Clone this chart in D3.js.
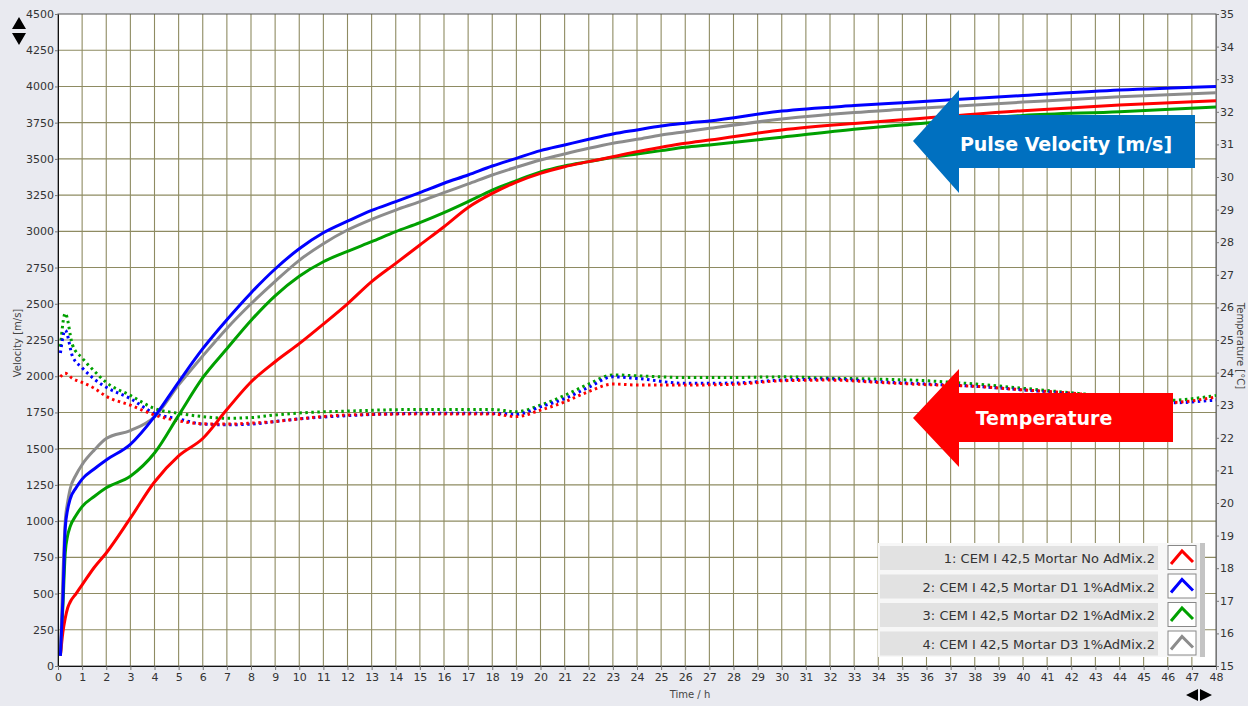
<!DOCTYPE html>
<html>
<head>
<meta charset="utf-8">
<script src="https://cdn.jsdelivr.net/npm/d3@7"></script>
<style>
html, body { margin: 0; padding: 0; background: #e9eaf0; }
svg { display: block; font-family: "DejaVu Sans", sans-serif; }
</style>
</head>
<body>
<svg width="1248" height="706"></svg>
<script>
// --- data ---
var hours = [0.1,0.2,0.3,0.4,0.5,0.75,1,1.5,2,3,4,5,6,7,8,9,10,11,12,13,14,15,16,17,18,19,20,21,22,23,24,25,26,27,30,33,35,40,44,48];
var velRed   = [70,230,330,400,440,500,560,680,780,1020,1270,1450,1570,1770,1960,2100,2225,2360,2500,2653,2779,2906,3032,3165,3262,3340,3400,3446,3481,3515,3550,3580,3608,3630,3700,3745,3770,3833,3872,3902];
var velBlue  = [70,450,950,1080,1150,1230,1290,1360,1422,1530,1721,1960,2190,2390,2575,2740,2880,2990,3070,3145,3205,3267,3332,3389,3451,3504,3557,3596,3635,3672,3700,3727,3746,3762,3830,3868,3888,3937,3975,4000];
var velGreen = [70,400,780,900,960,1040,1100,1170,1230,1310,1470,1730,1990,2190,2385,2555,2690,2790,2862,2929,2998,3060,3129,3205,3285,3350,3410,3451,3481,3511,3534,3557,3580,3596,3650,3705,3734,3800,3826,3858];
var velGray  = [70,600,1000,1130,1220,1320,1390,1490,1570,1625,1720,1940,2140,2330,2500,2655,2800,2915,3009,3083,3147,3205,3267,3327,3389,3442,3492,3534,3573,3608,3635,3665,3688,3711,3775,3820,3842,3892,3929,3957];

var tempHours = [0.1,0.3,0.6,1,1.5,2,3,4,5,6,7,8,9,10,12,15,18,19,20,21,22,23,24,26,28,30,32,34,36,38,40,42,44,46,48];
var tempRed   = [23.87,23.98,23.82,23.7,23.52,23.27,23.0,22.7,22.52,22.43,22.42,22.45,22.5,22.58,22.7,22.73,22.73,22.65,22.85,23.1,23.42,23.65,23.62,23.62,23.64,23.75,23.77,23.7,23.63,23.58,23.47,23.37,23.22,23.08,23.25];
var tempBlue  = [24.6,25.3,24.5,24.15,23.8,23.55,23.2,22.75,22.58,22.42,22.4,22.42,22.5,22.58,22.68,22.75,22.75,22.72,22.95,23.2,23.55,23.87,23.82,23.67,23.68,23.77,23.8,23.72,23.65,23.58,23.47,23.35,23.2,23.07,23.16];
var tempGreen = [24.8,25.82,24.85,24.45,24.05,23.7,23.3,22.9,22.75,22.65,22.6,22.62,22.7,22.76,22.82,22.87,22.87,22.8,23.0,23.3,23.65,23.93,23.9,23.85,23.85,23.87,23.83,23.8,23.75,23.65,23.52,23.38,23.25,23.15,23.3];

var seriesNames = ["1: CEM I 42,5 Mortar No AdMix.2", "2: CEM I 42,5 Mortar D1 1%AdMix.2", "3: CEM I 42,5 Mortar D2 1%AdMix.2", "4: CEM I 42,5 Mortar D3 1%AdMix.2"];
var seriesColors = ["#ff0000", "#0000ff", "#00a000", "#8c8c8c"];

var hourTicks = d3.range(0, 49, 1);
var velTicks = [0,250,500,750,1000,1250,1500,1750,2000,2250,2500,2750,3000,3250,3500,3750,4000,4250,4500];
var tempTicks = [15,16,17,18,19,20,21,22,23,24,25,26,27,28,29,30,31,32,33,34,35];

// --- layout ---
var svg = d3.select("svg"),
    pL = 58, pR = 1216, pT = 14, pB = 666;

var x = d3.scaleLinear().domain([0, 48]).range([pL, pR]);
var yV = d3.scaleLinear().domain([0, 4500]).range([pB, pT]);
var yT = d3.scaleLinear().domain([15, 35]).range([pB, pT]);

// plot background
svg.append("rect").attr("x", pL).attr("y", pT)
  .attr("width", pR - pL).attr("height", pB - pT).attr("fill", "#fff");

// grid
var grid = svg.append("g").attr("stroke", "#8e8b62").attr("stroke-width", 1.1);
grid.selectAll(".gv").data(hourTicks.slice(1, -1)).join("line")
  .attr("x1", d => x(d)).attr("x2", d => x(d)).attr("y1", pT).attr("y2", pB);
grid.selectAll(".gh").data(velTicks.slice(1, -1)).join("line")
  .attr("x1", pL).attr("x2", pR).attr("y1", d => yV(d)).attr("y2", d => yV(d));

// border
svg.append("rect").attr("x", pL).attr("y", pT)
  .attr("width", pR - pL).attr("height", pB - pT)
  .attr("fill", "none").attr("stroke", "#555").attr("stroke-width", 1);

// temperature (dotted) lines
var tLine = function(vals) {
  return d3.line().x((d, i) => x(tempHours[i])).y(d => yT(d)).curve(d3.curveMonotoneX)(vals);
};
[[tempGreen, seriesColors[2]], [tempBlue, seriesColors[1]], [tempRed, seriesColors[0]]].forEach(function(s) {
  svg.append("path").attr("d", tLine(s[0])).attr("fill", "none")
    .attr("stroke", s[1]).attr("stroke-width", 3).attr("stroke-dasharray", "2.5,3.5");
});

// velocity lines
var vLine = function(vals) {
  return d3.line().x((d, i) => x(hours[i])).y(d => yV(d)).curve(d3.curveMonotoneX)(vals);
};
[[velGreen, seriesColors[2]], [velRed, seriesColors[0]], [velGray, seriesColors[3]], [velBlue, seriesColors[1]]].forEach(function(s) {
  svg.append("path").attr("d", vLine(s[0])).attr("fill", "none")
    .attr("stroke", s[1]).attr("stroke-width", 3).attr("stroke-linejoin", "round");
});

// axes
function styleAxis(g) {
  g.selectAll("text").attr("fill", "#333").style("font-size", "11px").style("font-family", "DejaVu Sans");
  g.selectAll(".tick line").attr("stroke", "#777");
}
var fmt = d3.format("d");
svg.append("g").attr("transform", "translate(" + pL + ",0)")
  .call(d3.axisLeft(yV).tickValues(velTicks).tickFormat(fmt).tickSize(3).tickPadding(1).tickSizeOuter(0))
  .call(styleAxis).call(g => g.select(".domain").attr("stroke", "#111"));
svg.append("g").attr("transform", "translate(0," + pB + ")")
  .call(d3.axisBottom(x).tickValues(hourTicks).tickFormat(fmt).tickSize(4).tickPadding(3).tickSizeOuter(0))
  .call(styleAxis).call(g => g.select(".domain").attr("stroke", "#111"));
svg.append("g").attr("transform", "translate(" + pR + ",0)")
  .call(d3.axisRight(yT).tickValues(tempTicks).tickFormat(fmt).tickSize(3).tickPadding(1).tickSizeOuter(0))
  .call(styleAxis).call(g => g.select(".domain").attr("stroke", "#777"));

// axis titles
svg.append("text").attr("transform", "translate(21,343) rotate(-90)")
  .attr("text-anchor", "middle").attr("font-size", 10).attr("fill", "#444").text("Velocity [m/s]");
svg.append("text").attr("transform", "translate(1237,346) rotate(90)")
  .attr("text-anchor", "middle").attr("font-size", 10).attr("fill", "#444").text("Temperature [°C]");
svg.append("text").attr("x", 690).attr("y", 698)
  .attr("text-anchor", "middle").attr("font-size", 10).attr("fill", "#444").text("Time / h");

// zoom arrows (decoration)
svg.append("path").attr("d", "M19,17 L26,29 L12,29 Z M12,33 L26,33 L19,45 Z").attr("fill", "#000");
svg.append("path").attr("d", "M1186,695 L1198,689 L1198,701 Z M1200,689 L1212,695 L1200,701 Z").attr("fill", "#000");

// annotation arrows
function bigArrow(tip, headX, headTop, headBot, bodyTop, bodyBot, endX, color, label, tx, ty) {
  var pts = [[tip[0], tip[1]], [headX, headTop], [headX, bodyTop], [endX, bodyTop],
             [endX, bodyBot], [headX, bodyBot], [headX, headBot]];
  svg.append("path").attr("d", d3.line()(pts) + "Z").attr("fill", color);
  svg.append("text").attr("x", tx).attr("y", ty).attr("text-anchor", "middle")
    .attr("font-size", 19).attr("font-weight", "bold").attr("fill", "#fff").text(label);
}
bigArrow([913, 141], 959, 90, 193, 115, 168, 1195, "#0070c0", "Pulse Velocity [m/s]", 1066, 151);
bigArrow([913, 418], 959, 369, 467, 393, 442, 1173, "#ff0000", "Temperature", 1044, 425);

// legend
var lg = svg.append("g");
lg.append("rect").attr("x", 878).attr("y", 543).attr("width", 327).attr("height", 114).attr("fill", "#f7f7f7");
lg.append("rect").attr("x", 1200).attr("y", 543).attr("width", 5).attr("height", 114).attr("fill", "#c4c4c4");
var rows = lg.selectAll(".row").data(seriesNames).join("g")
  .attr("transform", (d, i) => "translate(0," + (545 + i * 28.5) + ")");
rows.append("rect").attr("x", 880).attr("y", 1).attr("width", 278).attr("height", 24).attr("fill", "#e2e2e2");
rows.append("text").attr("x", 1155).attr("y", 18).attr("text-anchor", "end")
  .attr("font-size", 13).attr("fill", "#333").text(d => d);
rows.append("rect").attr("x", 1168).attr("y", 0.5).attr("width", 28).attr("height", 24)
  .attr("fill", "#fff").attr("stroke", "#888");
rows.append("path").attr("d", "M1171,19 L1182,6 L1193,17").attr("fill", "none")
  .attr("stroke", (d, i) => seriesColors[i]).attr("stroke-width", 3);
</script>
</body>
</html>
